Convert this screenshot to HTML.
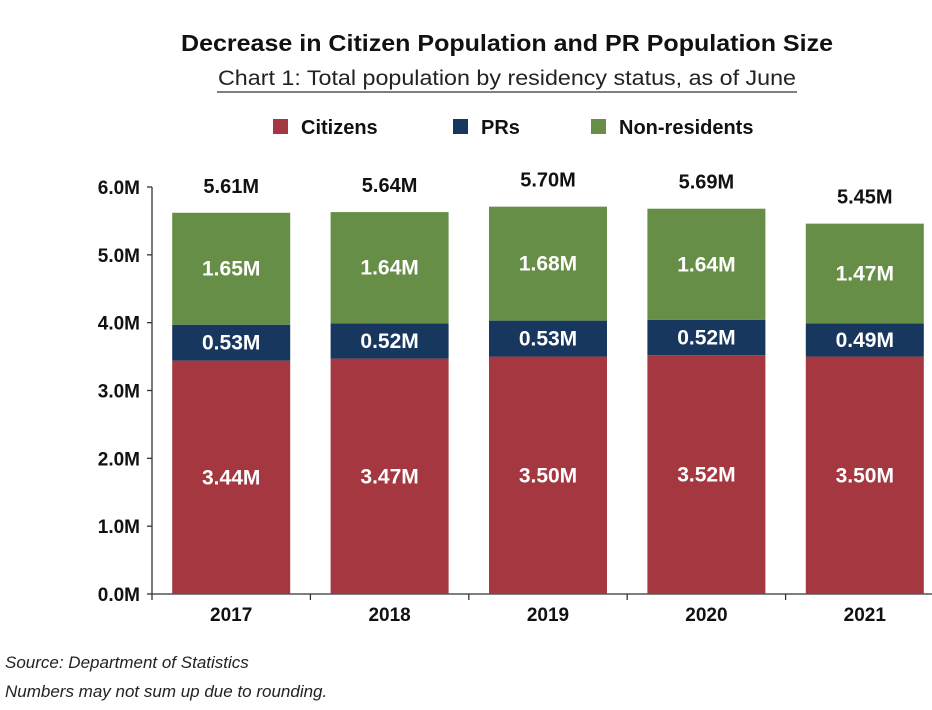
<!DOCTYPE html>
<html><head><meta charset="utf-8"><style>
html,body{margin:0;padding:0;background:#fff;}
svg{display:block;font-family:"Liberation Sans",sans-serif;}
</style></head><body>
<svg id="chart" width="932" height="710" viewBox="0 0 932 710" xmlns="http://www.w3.org/2000/svg">
<text x="507" y="51" text-anchor="middle" font-size="23" font-weight="bold" fill="#111" textLength="652" lengthAdjust="spacingAndGlyphs">Decrease in Citizen Population and PR Population Size</text>
<text x="507" y="85" text-anchor="middle" font-size="21" fill="#222" textLength="578" lengthAdjust="spacingAndGlyphs">Chart 1: Total population by residency status, as of June</text>
<line x1="217" y1="92" x2="797" y2="92" stroke="#333" stroke-width="1.3"/>
<g id="legend"></g>
<g id="axes"></g>
<g id="bars"></g>
<text x="5" y="668" font-size="17" font-style="italic" fill="#222">Source: Department of Statistics</text>
<text x="5" y="697" font-size="17" font-style="italic" fill="#222">Numbers may not sum up due to rounding.</text>
</svg>
<script>
const categories = ["2017","2018","2019","2020","2021"];
const citizens = [3.44,3.47,3.50,3.52,3.50];
const prs = [0.53,0.52,0.53,0.52,0.49];
const nonResidents = [1.65,1.64,1.68,1.64,1.47];
const totals = [5.61,5.64,5.70,5.69,5.45];
const yTicks = [0,1,2,3,4,5,6];
const seriesNames = ["Citizens","PRs","Non-residents"];

const NS="http://www.w3.org/2000/svg";
const colors=["#A4373F","#17375E","#668E46"];
const x0=152, x1=944, y0=594, yTop=187, yMax=6;
const band=(x1-x0)/categories.length, barW=118;
const y=v=>y0-(v/yMax)*(y0-yTop);
const xc=i=>x0+band*(i+0.5);
function mk(tag,attrs,parent,txt){const e=document.createElementNS(NS,tag);for(const k in attrs)e.setAttribute(k,attrs[k]);if(txt!==undefined)e.textContent=txt;parent.appendChild(e);return e;}
const axes=document.getElementById('axes'), bars=document.getElementById('bars'), legend=document.getElementById('legend');

const legX=[273,453,591];
seriesNames.forEach((n,i)=>{
  const r=mk('rect',{x:legX[i],y:119,width:15,height:15,fill:colors[i]},legend);
  
  
  const t=mk('text',{x:legX[i]+28,y:134,'font-size':20,'font-weight':'bold',fill:'#111'},legend,n);
  
  
});

const ya=mk('line',{x1:x0,y1:yTop,x2:x0,y2:y0,stroke:'#333','stroke-width':1.3},axes);


yTicks.forEach(v=>{
  const tk=mk('line',{x1:x0-5,y1:y(v),x2:x0,y2:y(v),stroke:'#333','stroke-width':1.3},axes);
  
  
  const t=mk('text',{x:x0-12,y:y(v)+7,'text-anchor':'end','font-size':19,'font-weight':'bold',fill:'#111'},axes,v.toFixed(1)+'M');
  
  
});
const xa=mk('line',{x1:x0,y1:y0,x2:x1,y2:y0,stroke:'#333','stroke-width':1.3},axes);


for(let i=0;i<=categories.length;i++){
  const tk=mk('line',{x1:x0+band*i,y1:y0,x2:x0+band*i,y2:y0+6,stroke:'#333','stroke-width':1.3},axes);
  
  
}
categories.forEach((c,i)=>{
  const t=mk('text',{x:xc(i),y:621,'text-anchor':'middle','font-size':19,'font-weight':'bold',fill:'#111'},axes,c);
  
  
});

const series=[citizens,prs,nonResidents];
categories.forEach((c,i)=>{
  let base=0;
  series.forEach((s,k)=>{
    const v=s[i], top=base+v;
    const r=mk('rect',{x:xc(i)-barW/2,y:y(top),width:barW,height:y(base)-y(top),fill:colors[k]},bars);
    
    
    const t=mk('text',{x:xc(i),y:(y(base)+y(top))/2+7,'text-anchor':'middle','font-size':21,'font-weight':'bold',fill:'#fff'},bars,v.toFixed(2)+'M');
    
    
    base=top;
  });
  const t=mk('text',{x:xc(i),y:y(base)-20,'text-anchor':'middle','font-size':20,'font-weight':'bold',fill:'#111'},bars,totals[i].toFixed(2)+'M');
  
  
});
</script>
</body></html>
